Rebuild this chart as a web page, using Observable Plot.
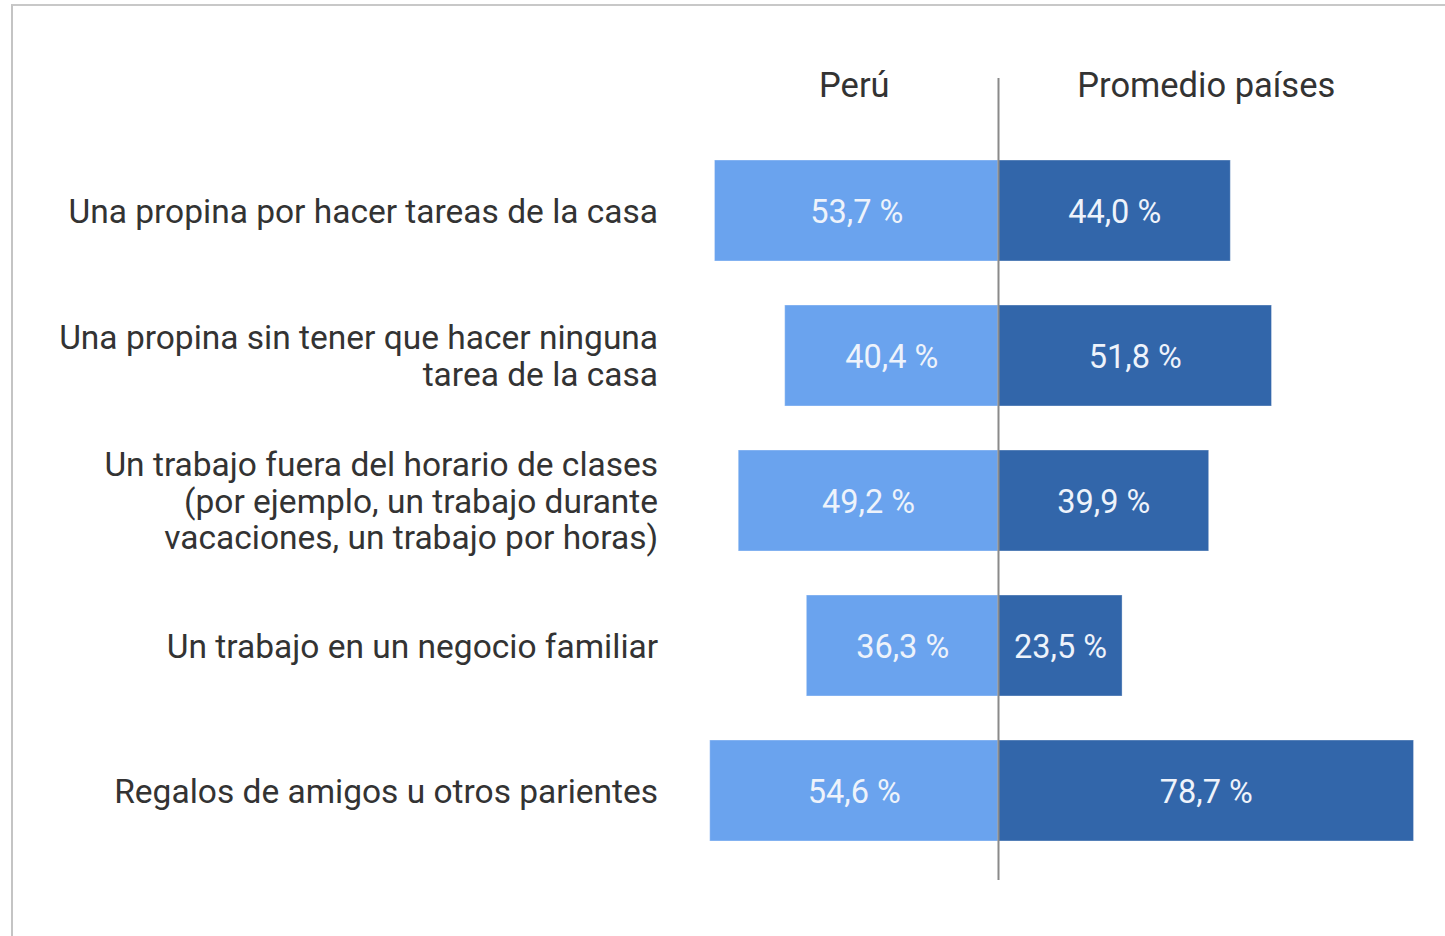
<!DOCTYPE html>
<html>
<head>
<meta charset="utf-8">
<script src="https://cdn.jsdelivr.net/npm/d3@7"></script>
<script src="https://cdn.jsdelivr.net/npm/@observablehq/plot@0.6"></script>
<style>
  html, body { margin: 0; padding: 0; background: #fff; }
  #wrap { position: relative; width: 1445px; height: 936px; overflow: hidden; }
  #frame { position: absolute; left: 11px; top: 4px; right: -10px; bottom: -10px;
           border-top: 2px solid #c8c8c8; border-left: 2px solid #c4c4c4; pointer-events: none; }
  #chart { position: absolute; left: 0; top: 0; }
</style>
</head>
<body>
<div id="wrap"><div id="chart"></div><div id="frame"></div></div>
<script>
const categories = [
  "Una propina por hacer tareas de la casa",
  "Una propina sin tener que hacer ninguna\ntarea de la casa",
  "Un trabajo fuera del horario de clases\n(por ejemplo, un trabajo durante\nvacaciones, un trabajo por horas)",
  "Un trabajo en un negocio familiar",
  "Regalos de amigos u otros parientes"
];
const series = ["Perú", "Promedio países"];
const peru = [53.7, 40.4, 49.2, 36.3, 54.6];
const promedio = [44.0, 51.8, 39.9, 23.5, 78.7];
const colors = ["#6aa3ee", "#3266aa"];

const rows = [];
categories.forEach((c, i) => {
  rows.push({category: c, series: series[0], value: peru[i], signed: -peru[i]});
  rows.push({category: c, series: series[1], value: promedio[i], signed: promedio[i]});
});
const headers = [
  {series: series[0], x: -d3.max(peru) / 2},
  {series: series[1], x: d3.max(promedio) / 2}
];
const fmt = v => v.toFixed(1).replace(".", ",") + " %";

const chart = Plot.plot({
  width: 1445,
  height: 936,
  marginLeft: 707.6,
  marginRight: 24.6,
  marginTop: 78,
  marginBottom: 56,
  style: {background: "none", fontFamily: "Roboto, sans-serif", fontSize: "33px", color: "#333"},
  x: {domain: [-55, 80], axis: null},
  y: {domain: categories, paddingInner: 0.302, paddingOuter: 0.408, align: 0.683, label: null},
  color: {domain: series, range: colors},
  marks: [
    Plot.barX(rows, {y: "category", x1: 0, x2: "signed", fill: "series", stroke: "#ffffff", strokeOpacity: 0.35, strokeWidth: 1}),
    Plot.ruleX([0], {stroke: "#8a8a8a", strokeWidth: 2}),
    Plot.text(rows, {y: "category", x: d => d.signed / 2, text: d => fmt(d.value), fill: "#eef3fb", fontSize: 32.5, dy: 2}),
    Plot.text(headers, {x: "x", text: "series", frameAnchor: "top", lineAnchor: "middle", dy: 7, fill: "#333", fontSize: 34.5}),
    Plot.axisY({tickSize: 0, tickPadding: 50, lineHeight: 1.09, fontSize: 33.5, fill: "#333", label: null})
  ]
});
document.getElementById("chart").appendChild(chart);
</script>
</body>
</html>
